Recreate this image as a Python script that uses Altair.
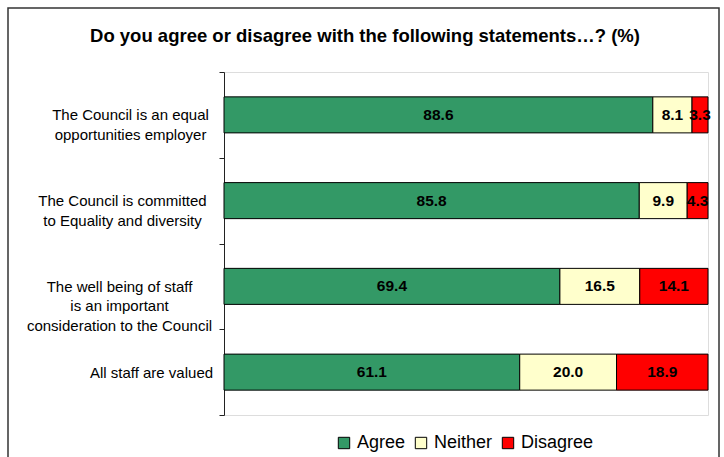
import json
import altair as alt
import pandas as pd

title_text = "Do you agree or disagree with the following statements\u2026? (%)"
statements = [
    "The Council is an equal|opportunities employer",
    "The Council is committed|to Equality and diversity",
    "The well being of staff|is an important|consideration to the Council",
    "All staff are valued",
]
responses = ["Agree", "Neither", "Disagree"]
agree = [88.6, 85.8, 69.4, 61.1]
neither = [8.1, 9.9, 16.5, 20.0]
disagree = [3.3, 4.3, 14.1, 18.9]
colors = ["#339966", "#FFFFCC", "#FF0000"]

rows = []
for i, s in enumerate(statements):
    start = 0.0
    for r, vals in zip(responses, [agree, neither, disagree]):
        v = vals[i]
        rows.append({"statement": s, "response": r, "value": v,
                     "start": start, "end": start + v, "mid": start + v / 2,
                     "order": responses.index(r)})
        start += v
df = pd.DataFrame(rows)

font = "Liberation Sans"
label_centers_pad = [89, 97, 100, 68]
pad_cond = [{"test": f"datum.value === {json.dumps(s)}", "value": p}
            for s, p in zip(statements[:-1], label_centers_pad[:-1])]

y_enc = alt.Y("statement:N", sort=statements,
              scale=alt.Scale(paddingInner=0, paddingOuter=0),
              axis=alt.Axis(title=None, labelExpr="split(datum.label, '|')",
                            labelAlign="center", labelBaseline="middle",
                            labelLineHeight=19.5, labelFontSize=15, labelFont=font,
                            labelColor="#000", labelLimit=300,
                            labelPadding={"condition": pad_cond, "value": label_centers_pad[-1]},
                            tickBand="extent", tickSize=5, tickColor="#222",
                            domainColor="#222", domainWidth=1, grid=False))

base = alt.Chart(df)

bars = base.mark_bar(height={"band": 0.42}, stroke="black", strokeWidth=1).encode(
    y=y_enc,
    x=alt.X("start:Q", scale=alt.Scale(domain=[0, 100], nice=False), axis=None),
    x2="end:Q",
    color=alt.Color("response:N", sort=responses,
                    scale=alt.Scale(domain=responses, range=colors),
                    legend=alt.Legend(title=None, orient="none", direction="horizontal",
                                      legendX=111, legendY=362,
                                      symbolType="square", symbolSize=130,
                                      symbolStrokeColor="black", symbolStrokeWidth=1,
                                      symbolOpacity=1,
                                      labelFontSize=18, labelFont=font, labelColor="#000",
                                      columnPadding=6, labelOffset=4)),
    order="order:Q",
)

texts = base.mark_text(fontWeight="bold", fontSize=15.5, font=font, color="black",
                       baseline="middle", align="center").encode(
    y=alt.Y("statement:N", sort=statements),
    x=alt.X("mid:Q"),
    text=alt.Text("value:Q", format=".1f"),
)

frame = alt.Chart(alt.Data(values=[{}])).mark_rect(
    fill=None, stroke="#333", strokeWidth=1.5, clip=False).encode(
    x=alt.value(8 - 224), x2=alt.value(719 - 224),
    y=alt.value(8 - 72), y2=alt.value(480 - 72),
)

title = alt.Chart(alt.Data(values=[{"t": title_text}])).mark_text(
    fontSize=18.5, fontWeight="bold", font=font, color="#000",
    align="center", baseline="alphabetic", clip=False).encode(
    text="t:N", x=alt.value(365 - 224), y=alt.value(42 - 72),
)

chart = alt.layer(frame, title, bars, texts).properties(
    width=484, height=343,
    autosize=alt.AutoSizeParams(type="none"),
    padding={"left": 224, "top": 72, "right": 16, "bottom": 42},
).configure_view(stroke=None).configure(background="white")

chart.save("out.html", embed_options={"renderer": "svg", "actions": False})
